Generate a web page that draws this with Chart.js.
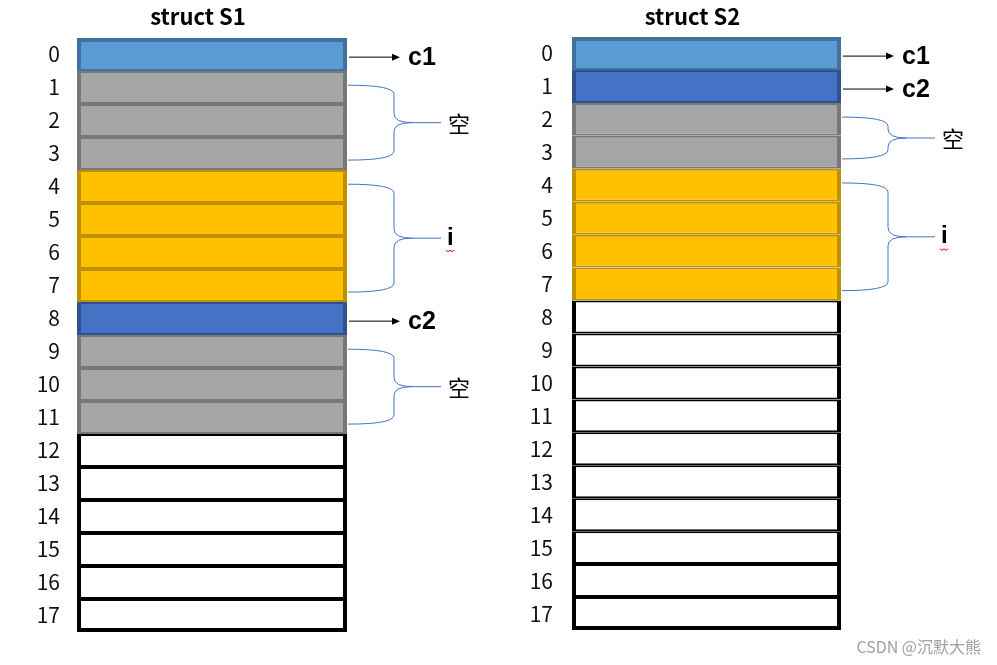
<!DOCTYPE html>
<html lang="zh">
<head>
  <meta charset="UTF-8" />
  <title>struct S1 / struct S2</title>
  <script src="https://cdn.jsdelivr.net/npm/chart.js"></script>
  <style>
    body {
      margin: 0;
      background: #fff;
    }
    .wrap {
      position: relative;
      width: 997px;
      height: 665px;
    }
    .box {
      position: absolute;
      top: 0;
      height: 665px;
    }
    #boxS1 { left: 0; width: 497px; }
    #boxS2 { left: 497px; width: 500px; }
  </style>
</head>
<body>
  <div class="wrap">
    <div class="box" id="boxS1"><canvas id="chartS1"></canvas></div>
    <div class="box" id="boxS2"><canvas id="chartS2"></canvas></div>
  </div>

  <script>
    // byte offsets 0..17
    const bytes = ['0','1','2','3','4','5','6','7','8','9','10','11','12','13','14','15','16','17'];

    // what sits in each byte ('' = outside the struct)
    const s1Bytes = ['c1','pad','pad','pad','i','i','i','i','c2','pad','pad','pad','','','','','',''];
    const s2Bytes = ['c1','c2','pad','pad','i','i','i','i','','','','','','','','','',''];

    // labels to the right: name, first byte, last byte
    const s1Members = [['c1',0,0], ['空',1,3], ['i',4,7], ['c2',8,8], ['空',9,11]];
    const s2Members = [['c1',0,0], ['c2',1,1], ['空',2,3], ['i',4,7]];

    const s1Title = 'struct S1';
    const s2Title = 'struct S2';
    const watermark = 'CSDN @沉默大熊';

    const fills = { c1: '#5b9bd5', c2: '#4472c4', pad: '#a5a5a5', i: '#ffc000', '': '#ffffff' };
    const edges = { c1: '#41719c', c2: '#2f528f', pad: '#787878', i: '#bf9000', '': '#000000' };

    const CJK = '"Noto Sans CJK SC", "Noto Sans", sans-serif';
    const LAT = '"Liberation Sans", Arial, sans-serif';

    function arrow(ctx, x0, x1, yy) {
      ctx.strokeStyle = '#000';
      ctx.fillStyle = '#000';
      ctx.lineWidth = 1;
      ctx.beginPath();
      ctx.moveTo(x0, yy);
      ctx.lineTo(x1 - 6, yy);
      ctx.stroke();
      ctx.beginPath();
      ctx.moveTo(x1, yy);
      ctx.lineTo(x1 - 8, yy - 3.5);
      ctx.lineTo(x1 - 8, yy + 3.5);
      ctx.closePath();
      ctx.fill();
    }

    function brace(ctx, x0, xm, xt, y0, y1) {
      const yc = (y0 + y1) / 2, r = 9;
      ctx.strokeStyle = '#4472c4';
      ctx.lineWidth = 1;
      ctx.beginPath();
      ctx.moveTo(x0, y0);
      ctx.quadraticCurveTo(xm, y0, xm, y0 + r);
      ctx.lineTo(xm, yc - r);
      ctx.quadraticCurveTo(xm, yc, xm + 18, yc);
      ctx.lineTo(xt, yc);
      ctx.moveTo(xm + 18, yc);
      ctx.quadraticCurveTo(xm, yc, xm, yc + r);
      ctx.lineTo(xm, y1 - r);
      ctx.quadraticCurveTo(xm, y1, x0, y1);
      ctx.stroke();
    }

    const notes = {
      id: 'notes',
      afterDraw(chart, args, opts) {
        const { ctx, chartArea: a, scales: { y } } = chart;
        ctx.save();
        ctx.fillStyle = '#000';
        ctx.textBaseline = 'middle';
        ctx.textAlign = 'center';
        ctx.font = 'bold 22px ' + CJK;
        ctx.fillText(opts.title, (a.left + a.right) / 2 - 14, 17);

        opts.members.forEach(([name, from, to]) => {
          if (from === to) {
            const yy = y.getPixelForValue(from + 0.08);
            arrow(ctx, a.right + 2, a.right + 53, yy);
            ctx.fillStyle = '#000';
            ctx.textAlign = 'left';
            ctx.font = 'bold 25px ' + LAT;
            ctx.fillText(name, a.right + 61, yy + 1);
          } else {
            const y0 = y.getPixelForValue(from - 0.07);
            const y1 = y.getPixelForValue(to + 0.2);
            const xt = a.right + 94;
            brace(ctx, a.right + 1, a.right + 47, xt, y0, y1);
            const yc = (y0 + y1) / 2;
            ctx.fillStyle = '#000';
            ctx.textAlign = 'left';
            if (name === 'i') {
              ctx.font = 'bold 24px ' + LAT;
              ctx.fillText(name, xt + 6, yc);
              // spell-check squiggle under the i
              ctx.strokeStyle = '#e00000';
              ctx.lineWidth = 1;
              ctx.beginPath();
              for (let k = 0; k <= 4; k++) {
                const px = xt + 5 + k * 2;
                const py = yc + 12 + (k % 2 ? 1.5 : 0);
                if (k === 0) ctx.moveTo(px, py); else ctx.lineTo(px, py);
              }
              ctx.stroke();
            } else {
              ctx.font = '22px ' + CJK;
              ctx.fillText(name, xt + 7, yc + 1);
            }
          }
        });

        if (opts.mark) {
          ctx.fillStyle = '#a0a0a0';
          ctx.textAlign = 'right';
          ctx.font = '16px ' + CJK;
          ctx.fillText(opts.mark, chart.width - 16, 647);
        }
        ctx.restore();
      }
    };

    function makeChart(id, title, kinds, members, padding, axisWidth, tickPad, mark) {
      return new Chart(document.getElementById(id), {
        type: 'bar',
        data: {
          labels: bytes,
          datasets: [{
            data: bytes.map(() => [0, 1]),
            backgroundColor: kinds.map(k => fills[k]),
            borderColor: kinds.map(k => edges[k]),
            borderWidth: ctx => ({
              left: 4,
              right: 4,
              top: ctx.dataIndex === 0 ? 4 : 2,
              bottom: ctx.dataIndex === bytes.length - 1 ? 4 : 2
            }),
            borderSkipped: false,
            inflateAmount: 0,
            barPercentage: 1,
            categoryPercentage: 1
          }]
        },
        options: {
          indexAxis: 'y',
          responsive: true,
          maintainAspectRatio: false,
          animation: false,
          layout: { padding: padding },
          plugins: {
            legend: { display: false },
            tooltip: { enabled: false },
            notes: { title: title, members: members, mark: mark }
          },
          scales: {
            x: { display: false, min: 0, max: 1 },
            y: {
              grid: { display: false, drawTicks: false },
              border: { display: false },
              ticks: {
                color: '#111',
                padding: tickPad,
                autoSkip: false,
                font: { family: CJK, size: 21 }
              },
              afterFit: s => { s.width = axisWidth; }
            }
          }
        },
        plugins: [notes]
      });
    }

    makeChart('chartS1', s1Title, s1Bytes, s1Members,
      { left: 0, top: 38, bottom: 33, right: 150 }, 77, 17, null);
    makeChart('chartS2', s2Title, s2Bytes, s2Members,
      { left: 0, top: 37, bottom: 35, right: 156 }, 75, 19, watermark);
  </script>
</body>
</html>
